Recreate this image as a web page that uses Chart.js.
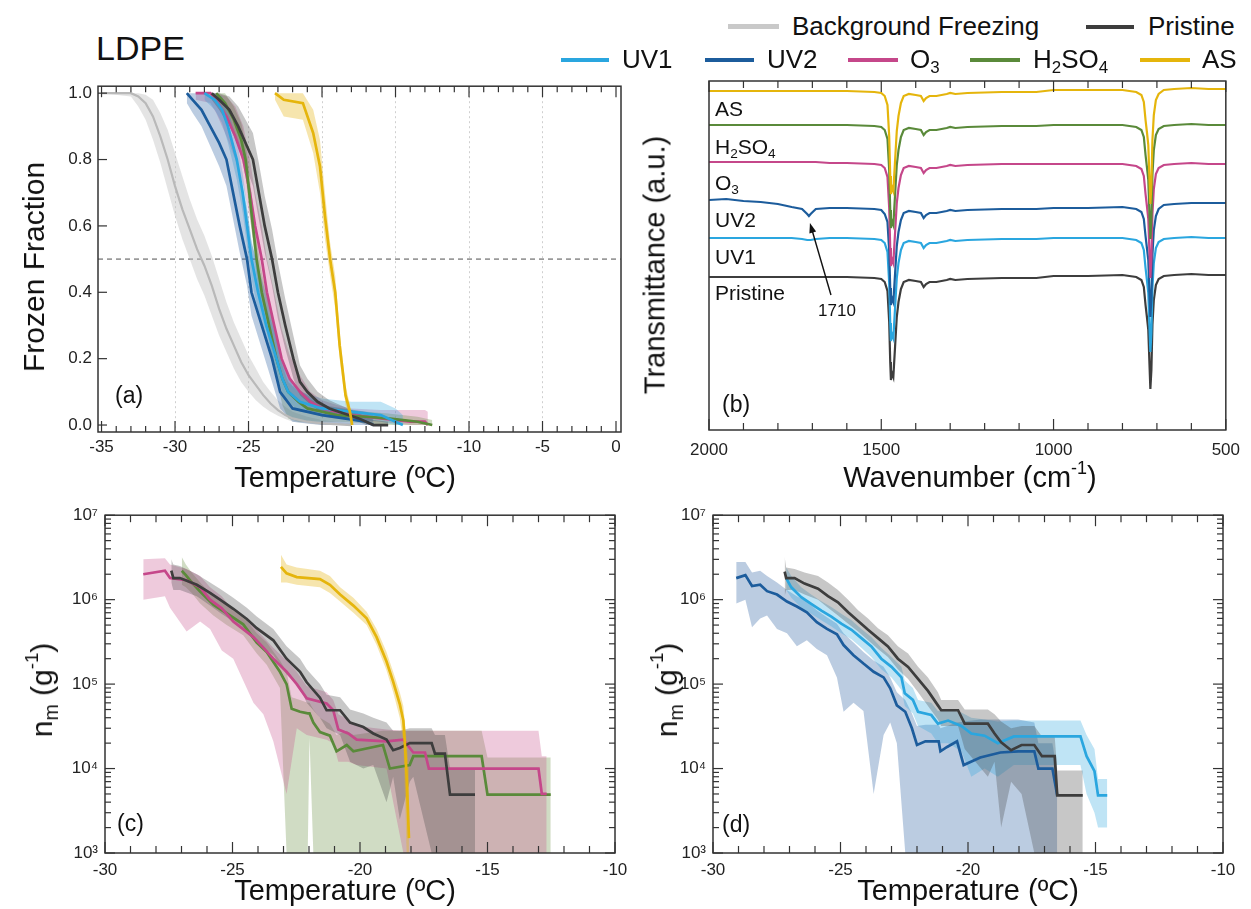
<!DOCTYPE html>
<html>
<head>
<meta charset="utf-8">
<title>LDPE</title>
<script src="https://cdn.jsdelivr.net/npm/chart.js@4.4.1/dist/chart.umd.min.js"></script>
<style>
  body { margin: 0; background: #fff; }
  #fig { position: relative; width: 1251px; height: 909px; overflow: hidden; background: #fff;
         font-family: 'Liberation Sans', Arial, Helvetica, sans-serif; color: #111; }
  #fig canvas { position: absolute; }
  .t { position: absolute; white-space: nowrap; line-height: 1; }
  .c { transform: translateX(-50%); }
  .r { transform: translate(-50%, -50%) rotate(-90deg); }
  .sb { font-size: 0.65em; position: relative; top: 0.3em; }
  .sp { font-size: 0.62em; position: relative; top: -0.75em; }
  .lg { position: absolute; height: 4px; }
</style>
</head>
<body>
<div id="fig">
  <canvas id="chartA" width="600" height="400" style="left:40px;top:70px"></canvas>
  <canvas id="chartB" width="600" height="400" style="left:650px;top:70px"></canvas>
  <canvas id="chartC" width="610" height="392" style="left:30px;top:498px"></canvas>
  <canvas id="chartD" width="610" height="392" style="left:640px;top:498px"></canvas>

  <div class="t" style="left:96px;top:31px;font-size:34px">LDPE</div>

  <!-- legend -->
  <div class="lg" style="left:728px;top:24px;width:51px;height:5px;background:#c9c9c9"></div>
  <div class="t" style="left:792px;top:13px;font-size:26px">Background Freezing</div>
  <div class="lg" style="left:1086px;top:25px;width:48px;background:#3d3d3d"></div>
  <div class="t" style="left:1148px;top:13px;font-size:26px">Pristine</div>

  <div class="lg" style="left:561px;top:58px;width:48px;background:#2aa6df"></div>
  <div class="t" style="left:622px;top:46px;font-size:26px">UV1</div>
  <div class="lg" style="left:705px;top:58px;width:49px;background:#1c5c9c"></div>
  <div class="t" style="left:767px;top:46px;font-size:26px">UV2</div>
  <div class="lg" style="left:848px;top:58px;width:50px;background:#c5478a"></div>
  <div class="t" style="left:910px;top:46px;font-size:26px">O<span class="sb">3</span></div>
  <div class="lg" style="left:970px;top:58px;width:50px;background:#5a8a3a"></div>
  <div class="t" style="left:1033px;top:46px;font-size:26px">H<span class="sb">2</span>SO<span class="sb">4</span></div>
  <div class="lg" style="left:1140px;top:58px;width:50px;background:#e5b50c"></div>
  <div class="t" style="left:1202px;top:46px;font-size:26px">AS</div>

  <!-- axis titles -->
  <div class="t r" style="left:34px;top:267px;font-size:30px">Frozen Fraction</div>
  <div class="t c" style="left:345px;top:463px;font-size:29px">Temperature (ºC)</div>
  <div class="t r" style="left:655px;top:265px;font-size:29px">Transmittance (a.u.)</div>
  <div class="t c" style="left:970px;top:463px;font-size:29px">Wavenumber (cm<span class="sp">-1</span>)</div>
  <div class="t r" style="left:42px;top:690px;font-size:30px">n<span class="sb">m</span> (g<span class="sp">-1</span>)</div>
  <div class="t c" style="left:345px;top:876px;font-size:29px">Temperature (ºC)</div>
  <div class="t r" style="left:667px;top:690px;font-size:30px">n<span class="sb">m</span> (g<span class="sp">-1</span>)</div>
  <div class="t c" style="left:968px;top:876px;font-size:29px">Temperature (ºC)</div>

  <!-- panel letters -->
  <div class="t" style="left:115px;top:384px;font-size:23px">(a)</div>
  <div class="t" style="left:722px;top:393px;font-size:23px">(b)</div>
  <div class="t" style="left:117px;top:812px;font-size:23px">(c)</div>
  <div class="t" style="left:722px;top:813px;font-size:23px">(d)</div>

  <!-- spectrum labels -->
  <div class="t" style="left:715px;top:98px;font-size:21px">AS</div>
  <div class="t" style="left:715px;top:136px;font-size:21px">H<span class="sb">2</span>SO<span class="sb">4</span></div>
  <div class="t" style="left:715px;top:172px;font-size:21px">O<span class="sb">3</span></div>
  <div class="t" style="left:715px;top:209px;font-size:21px">UV2</div>
  <div class="t" style="left:715px;top:246px;font-size:21px">UV1</div>
  <div class="t" style="left:715px;top:282px;font-size:21px">Pristine</div>
  <div class="t c" style="left:837px;top:302px;font-size:17px">1710</div>
</div>

<script>
var FONT = "'Liberation Sans', Arial, Helvetica, sans-serif";
Chart.defaults.font.family = FONT;
Chart.defaults.color = '#222';

// ---------- (a) frozen fraction vs temperature ----------
var tBg   = [-35, -33, -32.5, -32, -31.5, -31, -30.5, -30, -29.5, -29, -28.5, -28, -27.5, -27, -26.5, -26, -25.5, -25, -24.5, -24, -23.5, -23, -22.5, -22, -21, -20, -18];
var fBg   = [1, 1, 0.99, 0.97, 0.93, 0.87, 0.80, 0.72, 0.65, 0.59, 0.53, 0.48, 0.42, 0.35, 0.29, 0.24, 0.19, 0.15, 0.12, 0.09, 0.065, 0.045, 0.03, 0.02, 0.01, 0.005, 0];
var fBgLo = [1, 0.99, 0.96, 0.92, 0.86, 0.79, 0.71, 0.63, 0.56, 0.50, 0.44, 0.39, 0.33, 0.27, 0.22, 0.17, 0.13, 0.10, 0.075, 0.055, 0.04, 0.028, 0.018, 0.01, 0.004, 0, 0];
var fBgHi = [1, 1, 1, 0.995, 0.98, 0.94, 0.89, 0.82, 0.75, 0.68, 0.62, 0.57, 0.51, 0.44, 0.37, 0.31, 0.26, 0.21, 0.17, 0.13, 0.1, 0.075, 0.055, 0.04, 0.025, 0.015, 0.005];

var tPrA  = [-27.5, -27, -26.3, -25.7, -25.2, -24.7, -24.3, -23.9, -23.4, -23.0, -22.5, -21.95, -21.5, -21.0, -20.3, -19.5, -18.5, -17.5, -17.0, -16.5, -15.5];
var fPrA  = [1, 0.98, 0.95, 0.9, 0.85, 0.8, 0.7, 0.6, 0.5, 0.4, 0.3, 0.2, 0.13, 0.1, 0.07, 0.05, 0.035, 0.02, 0.01, 0, 0];
var loPrA = [0.98, 0.95, 0.9, 0.84, 0.78, 0.72, 0.62, 0.52, 0.42, 0.32, 0.23, 0.14, 0.09, 0.07, 0.045, 0.03, 0.02, 0.01, 0, 0, 0];
var hiPrA = [1, 1, 0.99, 0.96, 0.92, 0.88, 0.79, 0.69, 0.59, 0.49, 0.38, 0.27, 0.18, 0.14, 0.1, 0.075, 0.055, 0.035, 0.025, 0.015, 0.01];

var tO3A  = [-28.6, -27.6, -27.2, -26.5, -25.9, -25.35, -24.9, -24.55, -24.1, -23.75, -23.25, -22.75, -22.2, -21.5, -20.8, -20, -19, -18, -16, -14, -13, -12.8];
var fO3A  = [1, 1, 0.98, 0.93, 0.87, 0.8, 0.7, 0.6, 0.5, 0.4, 0.3, 0.2, 0.14, 0.1, 0.07, 0.05, 0.04, 0.03, 0.02, 0.01, 0.01, 0];
var loO3A = [0.98, 0.97, 0.94, 0.87, 0.8, 0.72, 0.62, 0.52, 0.42, 0.32, 0.23, 0.14, 0.09, 0.06, 0.04, 0.025, 0.02, 0.015, 0.01, 0, 0, 0];
var hiO3A = [1, 1, 1, 0.99, 0.96, 0.9, 0.8, 0.7, 0.6, 0.5, 0.4, 0.29, 0.21, 0.15, 0.1, 0.075, 0.06, 0.05, 0.045, 0.045, 0.045, 0.04];

var tH2A  = [-27.2, -26.6, -26.0, -25.5, -25.2, -24.95, -24.7, -24.45, -24.1, -23.6, -23.1, -22.7, -22.3, -21.6, -21, -20, -19, -17, -15.5, -13.5, -12.5];
var fH2A  = [1, 0.97, 0.92, 0.86, 0.8, 0.7, 0.6, 0.5, 0.4, 0.3, 0.2, 0.14, 0.1, 0.07, 0.05, 0.04, 0.03, 0.025, 0.02, 0.01, 0];
var loH2A = [0.98, 0.94, 0.88, 0.81, 0.75, 0.65, 0.55, 0.45, 0.35, 0.25, 0.14, 0.06, 0.02, 0.01, 0.01, 0.01, 0.01, 0.005, 0, 0, 0];
var hiH2A = [1, 1, 0.96, 0.91, 0.85, 0.76, 0.66, 0.56, 0.46, 0.36, 0.26, 0.18, 0.13, 0.1, 0.08, 0.06, 0.05, 0.04, 0.035, 0.025, 0.015];

var tU1A  = [-28.0, -27.3, -26.8, -26.4, -25.8, -25.4, -25.1, -24.8, -24.35, -23.8, -23.1, -22.7, -22.3, -21.5, -20, -18, -16, -15, -14.5];
var fU1A  = [1, 0.98, 0.95, 0.9, 0.8, 0.7, 0.6, 0.5, 0.4, 0.3, 0.2, 0.14, 0.1, 0.07, 0.05, 0.04, 0.03, 0.01, 0];
var loU1A = [0.98, 0.95, 0.91, 0.85, 0.74, 0.64, 0.54, 0.44, 0.34, 0.25, 0.15, 0.1, 0.07, 0.04, 0.03, 0.02, 0.01, 0, 0];
var hiU1A = [1, 1, 0.99, 0.95, 0.86, 0.76, 0.66, 0.56, 0.46, 0.36, 0.26, 0.19, 0.14, 0.1, 0.08, 0.07, 0.07, 0.05, 0.03];

var tU2A  = [-29.2, -28.8, -28.2, -27.6, -27.0, -26.5, -26.05, -25.6, -25.1, -24.8, -24.1, -23.4, -22.85, -22.0, -20, -18.5, -17, -16.5];
var fU2A  = [1, 0.98, 0.95, 0.9, 0.85, 0.8, 0.7, 0.6, 0.5, 0.4, 0.3, 0.2, 0.1, 0.05, 0.03, 0.02, 0.01, 0];
var loU2A = [0.97, 0.94, 0.9, 0.84, 0.78, 0.72, 0.62, 0.52, 0.42, 0.33, 0.23, 0.13, 0.05, 0.01, 0, 0, 0, 0];
var hiU2A = [1, 1, 1, 0.99, 0.96, 0.92, 0.84, 0.75, 0.65, 0.55, 0.44, 0.33, 0.2, 0.12, 0.06, 0.05, 0.04, 0.03];

var tAsA  = [-23.2, -22.6, -21.3, -20.6, -20.14, -19.8, -19.45, -19.1, -18.8, -18.4, -18.1, -17.95];
var fAsA  = [1, 0.98, 0.97, 0.88, 0.78, 0.63, 0.5, 0.4, 0.24, 0.09, 0.04, 0];
var loAsA = [0.98, 0.93, 0.92, 0.82, 0.7, 0.56, 0.45, 0.35, 0.2, 0.06, 0.02, 0];
var hiAsA = [1, 1, 1, 0.95, 0.86, 0.7, 0.55, 0.45, 0.28, 0.12, 0.06, 0.02];

var halfFrozen = 0.5;
var xTicksA = [-35, -30, -25, -20, -15, -10, -5, 0];
var yTicksA = [0, 0.2, 0.4, 0.6, 0.8, 1.0];

// ---------- (b) FTIR spectra (offset, a.u.) ----------
var wavenumber = [2000, 1950, 1900, 1850, 1800, 1760, 1730, 1715, 1710, 1705, 1690, 1650, 1600, 1520, 1500,
  1490, 1482, 1477, 1474, 1472, 1469, 1465, 1460, 1455, 1450, 1443, 1435, 1420, 1400, 1385,
  1377, 1370, 1360, 1340, 1310, 1300, 1285, 1250, 1150, 1050, 1000, 900, 800, 760, 745,
  738, 733, 729, 725, 722, 719, 716, 713, 709, 703, 695, 680, 650, 600, 550, 500];
var specAS = [339, 339, 339, 339, 339, 339, 339, 339, 339, 339, 339, 339, 339, 338, 337,
  334, 325, 294, 254, 236, 243, 239, 269, 299, 314, 327, 334, 336, 335, 334,
  329, 332, 334, 334, 336, 337, 336, 337, 338, 338, 340, 340, 340, 338, 335,
  328, 310, 298, 285, 255, 226, 245, 290, 315, 330, 336, 340, 341, 342, 341, 341];
var specH2SO4 = [305, 305, 305, 305, 305, 305, 305, 305, 305, 305, 305, 305, 305, 304, 303,
  300, 291, 260, 220, 202, 209, 205, 235, 265, 280, 293, 300, 302, 301, 300,
  295, 298, 300, 300, 302, 303, 302, 303, 304, 304, 305, 305, 305, 303, 300,
  293, 275, 263, 250, 220, 191, 210, 255, 280, 295, 301, 304, 305, 306, 305, 305];
var specO3 = [268, 268, 268, 268, 268, 268, 268, 268, 268, 268, 268, 267, 267, 266, 265,
  262, 253, 222, 182, 164, 171, 167, 197, 227, 242, 255, 262, 264, 263, 262,
  257, 260, 262, 262, 264, 265, 264, 265, 266, 266, 266, 266, 266, 264, 261,
  254, 236, 224, 211, 181, 152, 171, 216, 241, 256, 262, 265, 266, 267, 266, 266];
var specUV2 = [230, 231, 229, 228, 226, 223, 221, 216, 214, 216, 221, 222, 222, 221, 220,
  216, 208, 179, 142, 125, 132, 128, 156, 184, 198, 210, 217, 219, 218, 217,
  212, 215, 217, 217, 219, 220, 219, 220, 221, 221, 222, 222, 223, 221, 218,
  211, 194, 182, 170, 141, 113, 131, 175, 200, 214, 221, 225, 226, 227, 227, 227];
var specUV1 = [192, 192, 192, 192, 192, 192, 191, 190, 190, 190, 191, 192, 192, 191, 190,
  187, 178, 147, 107, 89, 96, 92, 122, 152, 167, 180, 187, 189, 188, 187,
  182, 185, 187, 187, 189, 190, 189, 190, 191, 191, 192, 192, 192, 190, 187,
  180, 162, 150, 137, 107, 78, 97, 142, 167, 182, 188, 191, 192, 193, 192, 192];
var specPristine = [153, 153, 153, 153, 153, 153, 153, 153, 153, 153, 153, 153, 153, 152, 151,
  148, 139, 108, 68, 50, 57, 53, 83, 113, 128, 141, 148, 150, 149, 148,
  143, 146, 148, 148, 150, 151, 150, 151, 152, 152, 154, 154, 155, 153, 150,
  143, 125, 113, 100, 70, 41, 60, 105, 130, 145, 151, 154, 155, 156, 155, 155];
var xTicksB = [2000, 1500, 1000, 500];
var arrow1710 = { tail: [1646, 135], head: [1707, 207] };

// ---------- (c) n_m: pristine, O3, H2SO4, AS ----------
var tO3C  = [-28.5, -27.65, -27.45, -26.8, -26.27, -25.88, -25.42, -24.97, -24.18, -23.79, -23.4, -22.88, -22.48, -22.09, -21.31, -21.05, -20.85, -20.46, -20.13, -18.96, -18.3, -17.91, -17.45, -17.3, -13.0, -12.87, -12.68];
var nO3C  = [2.0e6, 2.2e6, 1.8e6, 1.7e6, 1.4e6, 1.0e6, 7.9e5, 5.5e5, 3.6e5, 2.7e5, 2.0e5, 1.4e5, 1.0e5, 6.8e4, 5.9e4, 4.9e4, 2.9e4, 2.6e4, 2.2e4, 2.1e4, 2.2e4, 1.55e4, 1.55e4, 1.0e4, 1.0e4, 5.0e3, 5.0e3];
var hiO3C = [3.0e6, 3.1e6, 2.6e6, 2.3e6, 1.9e6, 1.4e6, 1.1e6, 7.5e5, 4.8e5, 3.6e5, 2.7e5, 1.9e5, 1.4e5, 9.5e4, 8.0e4, 6.5e4, 4.4e4, 3.8e4, 3.2e4, 2.9e4, 2.8e4, 2.8e4, 2.8e4, 2.8e4, 2.8e4, 1.4e4, 1.4e4];
var loO3C = [1.0e6, 1.1e6, 8e5, 4.2e5, 5.5e5, 4.5e5, 2.5e5, 2.0e5, 6e4, 4.4e4, 2.1e4, 5e3, 3e4, 2.5e4, 2.2e4, 2e4, 1.2e4, 1.2e4, 1.1e4, 1.0e4, 1e3, 1e3, 1e3, 1e3, 1e3, 1e3, 1e3];

var tH2C  = [-26.99, -26.83, -26.6, -26.27, -25.75, -25.23, -24.58, -24.05, -23.66, -23.14, -22.88, -22.68, -22.35, -22.05, -21.98, -21.83, -21.57, -21.18, -20.92, -20.52, -20.26, -19.1, -18.83, -18.05, -17.91, -15.23, -15.0, -12.52];
var nH2C  = [2.2e6, 1.95e6, 1.6e6, 1.25e6, 8.7e5, 6.9e5, 5.1e5, 3.1e5, 2.4e5, 1.4e5, 1.0e5, 5.1e4, 4.7e4, 4.5e4, 4.5e4, 3.5e4, 2.7e4, 2.45e4, 1.6e4, 1.9e4, 1.6e4, 1.9e4, 1.0e4, 1.1e4, 1.4e4, 1.4e4, 4.9e3, 4.9e3];
var hiH2C = [3.2e6, 2.6e6, 2.1e6, 1.6e6, 1.1e6, 8.7e5, 6.4e5, 4.0e5, 3.1e5, 1.9e5, 1.4e5, 7e4, 6.5e4, 6e4, 6e4, 5e4, 4e4, 3.4e4, 2.5e4, 2.8e4, 2.5e4, 2.8e4, 2.8e4, 2.8e4, 2.8e4, 2.8e4, 1.35e4, 1.35e4];
var loH2C = [1.5e6, 1.4e6, 1.2e6, 9e5, 6.5e5, 5e5, 3.8e5, 2.3e5, 1.7e5, 9e4, 1e3, 1e3, 1e3, 1e3, 2.3e4, 1e3, 1e3, 1e3, 1e3, 1e3, 1e3, 1e3, 1e3, 1e3, 1e3, 1e3, 1e3, 1e3];

var tPrC  = [-27.4, -27.32, -27.06, -26.4, -25.88, -25.49, -24.97, -24.44, -24.05, -23.4, -22.88, -22.35, -22.09, -21.57, -21.31, -20.78, -20.39, -19.87, -19.48, -18.96, -18.7, -18.44, -18.05, -17.91, -17.19, -17.06, -16.67, -16.47, -15.49];
var nPrC  = [2.2e6, 1.8e6, 1.8e6, 1.5e6, 1.2e6, 1.0e6, 7.8e5, 5.9e5, 4.6e5, 3.3e5, 2.0e5, 1.4e5, 1.05e5, 6.9e4, 4.9e4, 4.9e4, 3.5e4, 3.1e4, 2.6e4, 2.2e4, 1.65e4, 1.75e4, 2.0e4, 2.0e4, 2.0e4, 1.5e4, 1.5e4, 4.9e3, 4.9e3];
var hiPrC = [3.0e6, 2.6e6, 2.5e6, 2.0e6, 1.6e6, 1.35e6, 1.05e6, 8e5, 6.3e5, 4.5e5, 2.8e5, 2.0e5, 1.5e5, 1.0e5, 7.5e4, 7.0e4, 5.0e4, 4.5e4, 4.0e4, 3.5e4, 2.8e4, 2.8e4, 3.0e4, 3.0e4, 3.0e4, 2.5e4, 2.5e4, 1.0e4, 1.0e4];
var loPrC = [1.6e6, 1.3e6, 1.3e6, 1.1e6, 8.5e5, 7e5, 5.5e5, 4.2e5, 3.2e5, 2.2e5, 1.3e5, 9e4, 6e4, 4e4, 3e4, 2.5e4, 1.2e4, 1.0e4, 1.1e4, 4e3, 8e3, 2.5e3, 7e3, 8e3, 1e3, 1e3, 1e3, 1e3, 1e3];

var tAsC  = [-23.1, -22.88, -22.48, -21.57, -21.18, -20.78, -20.26, -19.74, -19.35, -18.96, -18.7, -18.44, -18.3, -18.24, -18.17, -18.08];
var nAsC  = [2.45e6, 2.05e6, 1.85e6, 1.75e6, 1.5e6, 1.15e6, 8.5e5, 6.0e5, 3.6e5, 1.85e5, 1.07e5, 5.8e4, 3.7e4, 2.0e4, 7.9e3, 1.5e3];
var hiAsC = [3.4e6, 2.6e6, 2.4e6, 2.2e6, 1.9e6, 1.4e6, 1.05e6, 7.2e5, 4.5e5, 2.4e5, 1.4e5, 8e4, 5.5e4, 3.5e4, 2e4, 1e4];
var loAsC = [1.6e6, 1.6e6, 1.5e6, 1.4e6, 1.2e6, 9.5e5, 7e5, 5e5, 2.9e5, 1.45e5, 8e4, 4e4, 2e4, 5e3, 1e3, 1e3];

// ---------- (d) n_m: pristine, UV1, UV2 ----------
var tU2D  = [-29.09, -28.73, -28.47, -28.15, -27.88, -27.49, -27.1, -26.71, -26.32, -25.93, -25.53, -25.14, -24.88, -24.49, -24.1, -23.7, -23.31, -23.05, -22.79, -22.46, -22.2, -22.0, -21.67, -21.15, -21.08, -20.82, -20.43, -20.17, -19.52, -18.73, -18.03, -17.4, -17.24, -16.69, -16.5];
var nU2D  = [1.8e6, 1.95e6, 1.45e6, 1.5e6, 1.26e6, 1.15e6, 9.5e5, 8.3e5, 7.1e5, 5.4e5, 4.5e5, 3.9e5, 2.9e5, 2.2e5, 1.75e5, 1.4e5, 1.2e5, 8.9e4, 5.6e4, 4.7e4, 3.0e4, 1.9e4, 2.1e4, 2.1e4, 1.6e4, 1.8e4, 2.1e4, 1.1e4, 1.35e4, 1.55e4, 1.6e4, 1.6e4, 1.0e4, 1.0e4, 4.8e3];
var hiU2D = [2.8e6, 2.8e6, 2.1e6, 2.2e6, 1.9e6, 1.6e6, 1.3e6, 1.1e6, 9.5e5, 7.5e5, 6.2e5, 5.2e5, 4e5, 3.1e5, 2.4e5, 1.9e5, 1.6e5, 1.2e5, 8e4, 6.5e4, 4.5e4, 3.2e4, 3.3e4, 3.3e4, 3e4, 3.2e4, 3.5e4, 3.6e4, 3.8e4, 3.8e4, 3.8e4, 3.5e4, 2e4, 2e4, 9e3];
var loU2D = [9e5, 1.0e6, 4.7e5, 6e5, 6.5e5, 4.5e5, 4.0e5, 2.8e5, 3.3e5, 2.6e5, 2.2e5, 1.2e5, 4.7e4, 6e4, 4.8e4, 5e3, 2.5e4, 3.5e4, 2e4, 1e3, 1e3, 1e3, 1e3, 1e3, 1e3, 1e3, 1e3, 1e3, 1e3, 1e3, 1e3, 1e3, 1e3, 1e3, 1e3];

var tU1D  = [-27.13, -26.93, -26.54, -26.15, -25.75, -25.36, -24.97, -24.57, -24.18, -23.79, -23.4, -23.0, -22.61, -22.48, -22.16, -21.96, -21.44, -21.18, -20.78, -20.26, -19.87, -19.35, -18.83, -18.2, -15.59, -15.35, -15.04, -14.9, -14.54];
var nU1D  = [1.8e6, 1.4e6, 1.07e6, 8.9e5, 7.4e5, 6.3e5, 5.2e5, 4.4e5, 3.5e5, 2.8e5, 2.0e5, 1.6e5, 1.2e5, 7.8e4, 6.5e4, 4.7e4, 4.3e4, 3.4e4, 3.7e4, 3.2e4, 2.6e4, 2.45e4, 2.0e4, 2.4e4, 2.4e4, 1.4e4, 9.3e3, 4.8e3, 4.8e3];
var hiU1D = [2.4e6, 1.9e6, 1.4e6, 1.15e6, 9.6e5, 8.2e5, 6.8e5, 5.7e5, 4.5e5, 3.6e5, 2.7e5, 2.1e5, 1.6e5, 1.1e5, 9e4, 6.5e4, 6e4, 4.8e4, 5e4, 4.6e4, 4e4, 3.8e4, 3.6e4, 3.7e4, 3.7e4, 2.5e4, 1.7e4, 7.5e3, 7.5e3];
var loU1D = [1.3e6, 1.05e6, 8e5, 6.8e5, 5.7e5, 4.8e5, 4e5, 3.4e5, 2.7e5, 2.1e5, 1.5e5, 1.2e5, 8.5e4, 5.5e4, 4.5e4, 3.2e4, 2.6e4, 2.0e4, 2.0e4, 1.6e4, 8e3, 1.0e4, 8e3, 1.1e4, 1.1e4, 5e3, 3e3, 2e3, 2e3];

var tPrD  = [-27.19, -27.13, -26.8, -26.41, -25.88, -25.49, -25.1, -24.7, -24.31, -23.92, -23.53, -23.14, -22.75, -22.35, -21.96, -21.57, -21.18, -21.05, -20.39, -20.13, -19.22, -18.96, -18.7, -18.31, -17.9, -17.4, -17.1, -16.6, -16.5, -15.5];
var nPrD  = [2.15e6, 1.8e6, 1.8e6, 1.55e6, 1.35e6, 1.1e6, 9.3e5, 7.1e5, 5.6e5, 4.4e5, 3.5e5, 2.8e5, 2.0e5, 1.6e5, 1.15e5, 8.3e4, 5.6e4, 4.9e4, 4.9e4, 3.4e4, 3.4e4, 2.6e4, 2.05e4, 1.65e4, 1.9e4, 1.9e4, 1.4e4, 1.4e4, 4.8e3, 4.8e3];
var hiPrD = [3.2e6, 2.4e6, 2.3e6, 2.1e6, 1.9e6, 1.6e6, 1.3e6, 1.0e6, 7.5e5, 6e5, 4.6e5, 3.8e5, 2.8e5, 2.3e5, 1.6e5, 1.2e5, 8e4, 6.5e4, 6.5e4, 5e4, 5e4, 4.4e4, 3.6e4, 3.0e4, 3.2e4, 3.2e4, 2.4e4, 2.4e4, 9.5e3, 9.5e3];
var loPrD = [1.1e6, 1.3e6, 1.3e6, 1.15e6, 1.0e6, 8e5, 6.5e5, 5.2e5, 4.2e5, 3.3e5, 2.6e5, 2.1e5, 1.5e5, 1.15e5, 8e4, 5.5e4, 3.8e4, 3.2e4, 3.2e4, 1.7e4, 8e3, 1.2e4, 2e3, 7e3, 5e3, 1e3, 1e3, 1e3, 1e3, 1e3];

var xTicksCD = [-30, -25, -20, -15, -10];
var nTicks = [1e3, 1e4, 1e5, 1e6, 1e7];
var nTickLabels = ['10³', '10⁴', '10⁵', '10⁶', '10⁷'];

// colours
var COL = {
  bg: '#b9b9b9', pristine: '#3d3d3d', uv1: '#2aa6df', uv2: '#1c5c9c',
  o3: '#c5478a', h2so4: '#5a8a3a', as: '#e5b50c'
};
var BAND = {
  bg: 'rgba(190,190,190,0.42)', pristine: 'rgba(70,70,70,0.3)', uv1: 'rgba(42,166,223,0.3)',
  uv2: 'rgba(60,110,170,0.35)', o3: 'rgba(200,80,140,0.3)', h2so4: 'rgba(100,140,60,0.3)',
  as: 'rgba(230,180,20,0.35)'
};

function pts(xs, ys) {
  return xs.map(function (x, i) { return { x: x, y: ys[i] }; });
}
function line(xs, ys, color, w) {
  return { data: pts(xs, ys), borderColor: color, borderWidth: w || 2.7, pointRadius: 0, fill: false, tension: 0 };
}
function band(xs, lo, hi, color) {
  return [
    { data: pts(xs, hi), borderWidth: 0, pointRadius: 0, fill: false },
    { data: pts(xs, lo), borderWidth: 0, pointRadius: 0, fill: '-1', backgroundColor: color }
  ];
}
function range(a, b, step, skip) {
  var out = [];
  for (var v = a; v <= b + 1e-9; v += step) {
    if (!skip || Math.abs(v % skip) > 1e-9) out.push(v);
  }
  return out;
}
function logMinors() {
  var out = [];
  [1e3, 1e4, 1e5, 1e6].forEach(function (d) {
    for (var m = 2; m <= 9; m++) out.push(m * d);
  });
  return out;
}

// frame + inward tick marks
function makeFrame(cfg) {
  return {
    id: 'frame',
    afterDatasetsDraw: function (chart) {
      var c = chart.ctx, a = chart.chartArea;
      c.save();
      c.strokeStyle = '#333';
      c.lineWidth = 1.5;
      c.strokeRect(a.left, a.top, a.right - a.left, a.bottom - a.top);
      c.lineWidth = 1.2;
      function mark(sc, vals, len, sides) {
        vals.forEach(function (v) {
          var p = sc.getPixelForValue(v);
          sides.forEach(function (s) {
            c.beginPath();
            if (s === 'top') { c.moveTo(p, a.top); c.lineTo(p, a.top + len); }
            else if (s === 'bottom') { c.moveTo(p, a.bottom); c.lineTo(p, a.bottom - len); }
            else if (s === 'left') { c.moveTo(a.left, p); c.lineTo(a.left + len, p); }
            else { c.moveTo(a.right, p); c.lineTo(a.right - len, p); }
            c.stroke();
          });
        });
      }
      ['x', 'y'].forEach(function (k) {
        var o = cfg[k];
        if (!o) return;
        mark(chart.scales[k], o.major, o.majorLen, o.sides);
        mark(chart.scales[k], o.minor || [], o.minorLen, o.sides);
      });
      c.restore();
    }
  };
}

function baseOptions(pad) {
  return {
    responsive: false, animation: false, devicePixelRatio: 1, events: [],
    layout: { padding: { left: 0, top: pad.top, right: pad.right, bottom: 0 } },
    plugins: { legend: { display: false }, tooltip: { enabled: false } }
  };
}

// ---------- chart (a) ----------
var halfLine = {
  id: 'halfLine',
  beforeDatasetsDraw: function (chart) {
    var c = chart.ctx, a = chart.chartArea, y = chart.scales.y.getPixelForValue(halfFrozen);
    c.save();
    c.strokeStyle = '#9a9a9a'; c.lineWidth = 1.6; c.setLineDash([5, 4]);
    c.beginPath(); c.moveTo(a.left, y); c.lineTo(a.right, y); c.stroke();
    c.restore();
  }
};
var optA = baseOptions({ top: 13, right: 19 });
optA.scales = {
  x: {
    type: 'linear', min: -35.24, max: 0.34,
    afterBuildTicks: function (s) { s.ticks = xTicksA.map(function (v) { return { value: v }; }); },
    afterFit: function (s) { s.height = 38; },
    ticks: { autoSkip: false, maxRotation: 0, padding: 5, font: { size: 17 }, callback: function (v) { return String(v); } },
    grid: {
      drawTicks: false,
      color: function (ctx) { return (ctx.tick && (ctx.tick.value === -35 || ctx.tick.value === 0)) ? 'rgba(0,0,0,0)' : '#cfcfcf'; },
      lineWidth: 1
    },
    border: { display: false, dash: [2, 3] }
  },
  y: {
    type: 'linear', min: -0.021, max: 1.021,
    afterBuildTicks: function (s) { s.ticks = yTicksA.map(function (v) { return { value: v }; }); },
    afterFit: function (s) { s.width = 58; },
    ticks: { autoSkip: false, padding: 6, font: { size: 17 }, callback: function (v) { return v.toFixed(1); } },
    grid: { display: false, drawTicks: false },
    border: { display: false }
  }
};
new Chart(document.getElementById('chartA'), {
  type: 'line',
  data: {
    datasets: [
      line(tAsA, fAsA, COL.as),
      line(tPrA, fPrA, COL.pristine),
      line(tU2A, fU2A, COL.uv2),
      line(tU1A, fU1A, COL.uv1),
      line(tH2A, fH2A, COL.h2so4),
      line(tO3A, fO3A, COL.o3),
      line(tBg, fBg, COL.bg, 2.2)
    ].concat(
      band(tAsA, loAsA, hiAsA, BAND.as),
      band(tPrA, loPrA, hiPrA, BAND.pristine),
      band(tU2A, loU2A, hiU2A, BAND.uv2),
      band(tU1A, loU1A, hiU1A, BAND.uv1),
      band(tH2A, loH2A, hiH2A, BAND.h2so4),
      band(tO3A, loO3A, hiO3A, BAND.o3),
      band(tBg, fBgLo, fBgHi, BAND.bg)
    )
  },
  options: optA,
  plugins: [halfLine, makeFrame({
    x: { major: xTicksA, minor: range(-35, 0, 1, 5), majorLen: 11, minorLen: 6, sides: ['top', 'bottom'] },
    y: { major: yTicksA, minor: [], majorLen: 9, minorLen: 0, sides: ['left'] }
  })]
});

// ---------- chart (b) ----------
var arrowPlugin = {
  id: 'arrow1710',
  afterDatasetsDraw: function (chart) {
    var c = chart.ctx, sx = chart.scales.x, sy = chart.scales.y;
    var x0 = sx.getPixelForValue(arrow1710.tail[0]), y0 = sy.getPixelForValue(arrow1710.tail[1]);
    var x1 = sx.getPixelForValue(arrow1710.head[0]), y1 = sy.getPixelForValue(arrow1710.head[1]);
    var ang = Math.atan2(y1 - y0, x1 - x0);
    c.save();
    c.strokeStyle = '#111'; c.fillStyle = '#111'; c.lineWidth = 1.4;
    c.beginPath(); c.moveTo(x0, y0); c.lineTo(x1 - 6 * Math.cos(ang), y1 - 6 * Math.sin(ang)); c.stroke();
    c.beginPath();
    c.moveTo(x1, y1);
    c.lineTo(x1 - 10 * Math.cos(ang) + 3.5 * Math.sin(ang), y1 - 10 * Math.sin(ang) - 3.5 * Math.cos(ang));
    c.lineTo(x1 - 10 * Math.cos(ang) - 3.5 * Math.sin(ang), y1 - 10 * Math.sin(ang) + 3.5 * Math.cos(ang));
    c.closePath(); c.fill();
    c.restore();
  }
};
var optB = baseOptions({ top: 11, right: 17 });
optB.scales = {
  x: {
    type: 'linear', min: 500, max: 2000, reverse: true,
    afterBuildTicks: function (s) { s.ticks = xTicksB.map(function (v) { return { value: v }; }); },
    afterFit: function (s) { s.height = 40; },
    ticks: { autoSkip: false, maxRotation: 0, padding: 10, font: { size: 17 }, callback: function (v) { return String(v); } },
    grid: { display: false, drawTicks: false },
    border: { display: false }
  },
  y: {
    type: 'linear', min: 0, max: 349,
    afterFit: function (s) { s.width = 59; },
    ticks: { display: false },
    grid: { display: false, drawTicks: false },
    border: { display: false }
  }
};
new Chart(document.getElementById('chartB'), {
  type: 'line',
  data: {
    datasets: [
      line(wavenumber, specAS, COL.as, 2.2),
      line(wavenumber, specH2SO4, COL.h2so4, 2.2),
      line(wavenumber, specO3, COL.o3, 2.2),
      line(wavenumber, specUV2, COL.uv2, 2.2),
      line(wavenumber, specUV1, COL.uv1, 2.2),
      line(wavenumber, specPristine, COL.pristine, 2.2)
    ]
  },
  options: optB,
  plugins: [arrowPlugin, makeFrame({
    x: { major: xTicksB, minor: range(600, 1900, 100, 500), majorLen: 11, minorLen: 7, sides: ['top', 'bottom'] }
  })]
});

// ---------- charts (c) and (d) ----------
function nmOptions(yWidth, rightPad) {
  var o = baseOptions({ top: 14, right: rightPad });
  o.scales = {
    x: {
      type: 'linear', min: -30, max: -10,
      afterBuildTicks: function (s) { s.ticks = xTicksCD.map(function (v) { return { value: v }; }); },
      afterFit: function (s) { s.height = 37; },
      ticks: { autoSkip: false, maxRotation: 0, padding: 7, font: { size: 17 }, callback: function (v) { return String(v); } },
      grid: { display: false, drawTicks: false },
      border: { display: false }
    },
    y: {
      type: 'logarithmic', min: 1e3, max: 1e7,
      afterBuildTicks: function (s) { s.ticks = nTicks.map(function (v) { return { value: v, major: true }; }); },
      afterFit: function (s) { s.width = yWidth; },
      ticks: { autoSkip: false, padding: 7, font: { size: 17 }, callback: function (v, i) { return nTickLabels[i]; } },
      grid: { display: false, drawTicks: false },
      border: { display: false }
    }
  };
  return o;
}
function nmFrame() {
  return makeFrame({
    x: { major: xTicksCD, minor: range(-30, -10, 1, 5), majorLen: 11, minorLen: 7, sides: ['top', 'bottom'] },
    y: { major: nTicks, minor: logMinors(), majorLen: 10, minorLen: 6, sides: ['left', 'right'] }
  });
}

new Chart(document.getElementById('chartC'), {
  type: 'line',
  data: {
    datasets: [
      line(tAsC, nAsC, COL.as),
      line(tPrC, nPrC, COL.pristine),
      line(tO3C, nO3C, COL.o3),
      line(tH2C, nH2C, COL.h2so4)
    ].concat(
      band(tAsC, loAsC, hiAsC, BAND.as),
      band(tPrC, loPrC, hiPrC, BAND.pristine),
      band(tO3C, loO3C, hiO3C, BAND.o3),
      band(tH2C, loH2C, hiH2C, BAND.h2so4)
    )
  },
  options: nmOptions(75, 25),
  plugins: [nmFrame()]
});

new Chart(document.getElementById('chartD'), {
  type: 'line',
  data: {
    datasets: [
      line(tPrD, nPrD, COL.pristine),
      line(tU1D, nU1D, COL.uv1),
      line(tU2D, nU2D, COL.uv2)
    ].concat(
      band(tPrD, loPrD, hiPrD, BAND.pristine),
      band(tU1D, loU1D, hiU1D, BAND.uv1),
      band(tU2D, loU2D, hiU2D, BAND.uv2)
    )
  },
  options: nmOptions(73, 27),
  plugins: [nmFrame()]
});
</script>
</body>
</html>
